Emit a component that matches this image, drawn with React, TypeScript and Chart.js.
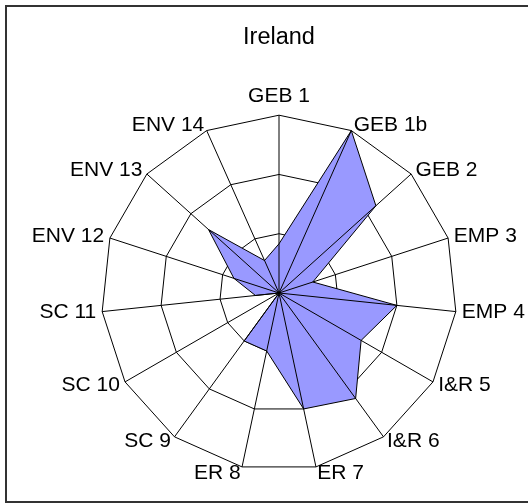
import React, { useEffect, useRef } from "react";
import { Chart, registerables } from "chart.js";

Chart.register(...registerables);

const categories = [
  "GEB 1", "GEB 1b", "GEB 2", "EMP 3", "EMP 4", "I&R 5", "I&R 6", "ER 7",
  "ER 8", "SC 9", "SC 10", "SC 11", "ENV 12", "ENV 13", "ENV 14",
];
const irelandValues = [0.83, 3, 2.2, 0.6, 2.0, 1.6, 2.2, 2.0, 1.0, 1.0, 0, 0.4, 0.8, 1.6, 0.6];
const scaleMin = 0;
const scaleMax = 3;
const scaleStep = 1;
const chartTitle = "Ireland";

const FONT = "'Liberation Sans', Arial, Helvetica, sans-serif";

const shiftLabels = {
  id: "shiftLabels",
  afterLayout(chart: any) {
    const s: any = chart.scales.r;
    const items = s && s._pointLabelItems;
    if (!items) return;
    items.forEach((it: any, i: number) => {
      const deg = Math.round((s.getIndexAngle(i) * 180) / Math.PI) % 360;
      const h = it.bottom - it.top;
      let dy = 0;
      if (deg === 0 || deg === 180 || deg === 90 || deg === 270) dy = 0;
      else if (deg < 90 || deg > 270) dy = h / 2;
      else dy = -h / 2;
      it.y += dy;
      it.top += dy;
      it.bottom += dy;
    });
  },
};

const spokesOnTop = {
  id: "spokesOnTop",
  afterDatasetsDraw(chart: any) {
    const s: any = chart.scales.r;
    if (!s) return;
    const ctx = chart.ctx;
    ctx.save();
    ctx.strokeStyle = "#000000";
    ctx.lineWidth = 1;
    for (let i = 0; i < categories.length; i++) {
      const p = s.getPointPosition(i, s.drawingArea);
      ctx.beginPath();
      ctx.moveTo(s.xCenter, s.yCenter);
      ctx.lineTo(p.x, p.y);
      ctx.stroke();
    }
    ctx.restore();
  },
};

export default function App() {
  const ref = useRef<HTMLCanvasElement | null>(null);

  useEffect(() => {
    if (!ref.current) return;
    const chart = new Chart(ref.current, {
      type: "radar",
      data: {
        labels: categories,
        datasets: [
          {
            label: chartTitle,
            data: irelandValues,
            backgroundColor: "#9999FF",
            borderColor: "#000000",
            borderWidth: 1,
            pointRadius: 0,
            fill: true,
          },
        ],
      },
      options: {
        responsive: false,
        animation: false,
        devicePixelRatio: 1,
        layout: { padding: { left: 0, right: 0, top: 0, bottom: 3 } },
        plugins: {
          legend: { display: false },
          tooltip: { enabled: false },
          title: {
            display: true,
            text: chartTitle,
            color: "#000000",
            font: { family: FONT, size: 23.5, weight: "normal" },
            padding: { top: 23, bottom: 30.8 },
          },
        },
        scales: {
          r: {
            min: scaleMin,
            max: scaleMax,
            ticks: { stepSize: scaleStep, display: false },
            grid: { color: "#000000", lineWidth: 1, circular: false },
            angleLines: { display: false },
            pointLabels: {
              color: "#000000",
              font: { family: FONT, size: 21 },
              padding: 6,
            },
          },
        },
      },
      plugins: [shiftLabels, spokesOnTop],
    } as any);
    return () => chart.destroy();
  }, []);

  return (
    <div
      style={{
        position: "absolute",
        left: 0,
        top: 0,
        width: 528,
        height: 503,
        overflow: "hidden",
        background: "#ffffff",
      }}
    >
      <div
        style={{
          position: "absolute",
          left: 5,
          top: 5,
          width: 560,
          height: 498,
          boxSizing: "border-box",
          border: "2px solid #333333",
        }}
      />
      <canvas
        ref={ref}
        width={558}
        height={503}
        style={{ position: "absolute", left: 0, top: 0, width: 558, height: 503 }}
      />
    </div>
  );
}
